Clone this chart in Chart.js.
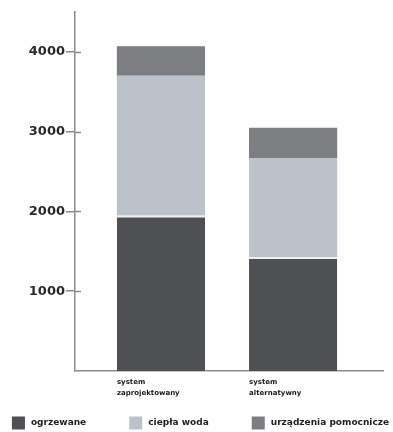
<!DOCTYPE html>
<html>
<head>
<meta charset="utf-8">
<script src="https://cdn.jsdelivr.net/npm/chart.js@4/dist/chart.umd.min.js"></script>
<style>
  html, body { margin: 0; padding: 0; background: #ffffff; }
  #wrap { width: 393px; height: 432px; }
</style>
</head>
<body>
<div id="wrap"><canvas id="c"></canvas></div>
<script>
// Categories (two-line axis labels) and the three stacked series
const categories = [['system', 'zaprojektowany'], ['system', 'alternatywny']];
const seriesNames = ['ogrzewane', 'ciepła woda', 'urządzenia pomocnicze'];
const ogrzewane = [1950, 1430];
const cieplaWoda = [1750, 1240];
const urzadzenia = [370, 380];
const yTickValues = [1000, 2000, 3000, 4000];

const seriesColors = ['#4e5054', '#bcc2ca', '#7c7e82'];
const axisColor = '#8c8c8c';
const fontFamily = "'DejaVu Sans', sans-serif";

const toPoints = arr => arr.map((v, i) => ({ x: i, y: v }));

// Short tick stubs on the inner side of the value axis
const innerTicks = {
  id: 'innerTicks',
  afterDatasetsDraw(chart) {
    const { ctx, chartArea, scales: { y } } = chart;
    ctx.save();
    ctx.strokeStyle = axisColor;
    ctx.lineWidth = 1.5;
    yTickValues.forEach(v => {
      const py = Math.round(y.getPixelForValue(v)) + 0.5;
      ctx.beginPath();
      ctx.moveTo(chartArea.left, py);
      ctx.lineTo(chartArea.left + 6, py);
      ctx.stroke();
    });
    ctx.restore();
  }
};

// Legend row along the bottom edge
const bottomLegend = {
  id: 'bottomLegend',
  afterDraw(chart) {
    const { ctx, width, height } = chart;
    const box = 13, gapText = 6, gapItem = 43;
    ctx.save();
    ctx.font = 'bold 9px ' + fontFamily;
    const items = chart.data.datasets.map(ds => ({
      label: ds.label, color: ds.backgroundColor,
      w: box + gapText + ctx.measureText(ds.label).width
    }));
    const total = items.reduce((s, it) => s + it.w, 0) + gapItem * (items.length - 1);
    let x = (width - total) / 2 + 4;
    const cy = height - 9;
    ctx.textBaseline = 'middle';
    ctx.textAlign = 'left';
    items.forEach(it => {
      ctx.fillStyle = it.color;
      ctx.fillRect(x, cy - box / 2, box, box);
      ctx.fillStyle = '#1e1e1e';
      ctx.fillText(it.label, x + box + gapText, cy);
      x += it.w + gapItem;
    });
    ctx.restore();
  }
};

const seriesData = [ogrzewane, cieplaWoda, urzadzenia];

new Chart(document.getElementById('c'), {
  type: 'bar',
  data: {
    datasets: seriesNames.map((name, i) => ({
      label: name,
      data: toPoints(seriesData[i]),
      backgroundColor: seriesColors[i],
      borderColor: '#efefef',
      borderWidth: i === 0 ? { top: 2, left: 0, right: 0, bottom: 0 } : 0,
      barPercentage: 0.667,
      categoryPercentage: 1.0
    }))
  },
  options: {
    responsive: true,
    maintainAspectRatio: false,
    animation: false,
    layout: { padding: { left: 0, right: 10, top: 12, bottom: 30 } },
    plugins: {
      legend: { display: false },
      tooltip: { enabled: false }
    },
    scales: {
      x: {
        type: 'linear',
        stacked: true,
        offset: false,
        bounds: 'data',
        min: -0.65,
        max: 1.68,
        afterBuildTicks: s => { s.ticks = categories.map((_, i) => ({ value: i })); },
        afterFit: s => { s.height = 31; },
        grid: { display: true, offset: false, drawOnChartArea: false, drawTicks: false },
        border: { display: true, color: axisColor, width: 1.5 },
        ticks: {
          callback: v => categories[v],
          align: 'start',
          labelOffset: -44,
          padding: 6,
          maxRotation: 0,
          autoSkip: false,
          color: '#1a1a1a',
          font: { family: fontFamily, size: 7, weight: 'bold', lineHeight: 1.55 }
        }
      },
      y: {
        stacked: true,
        min: 0,
        max: 4500,
        afterBuildTicks: s => { s.ticks = yTickValues.map(v => ({ value: v })); },
        afterFit: s => { s.width = 75; },
        grid: { drawOnChartArea: false, drawTicks: true, tickLength: 9, color: axisColor, lineWidth: 1.5 },
        border: { display: true, color: axisColor, width: 1.5 },
        ticks: {
          padding: 1,
          color: '#2a2a2a',
          callback: v => String(v),
          font: { family: fontFamily, size: 13, weight: 'bold' }
        }
      }
    }
  },
  plugins: [innerTicks, bottomLegend]
});
</script>
</body>
</html>
